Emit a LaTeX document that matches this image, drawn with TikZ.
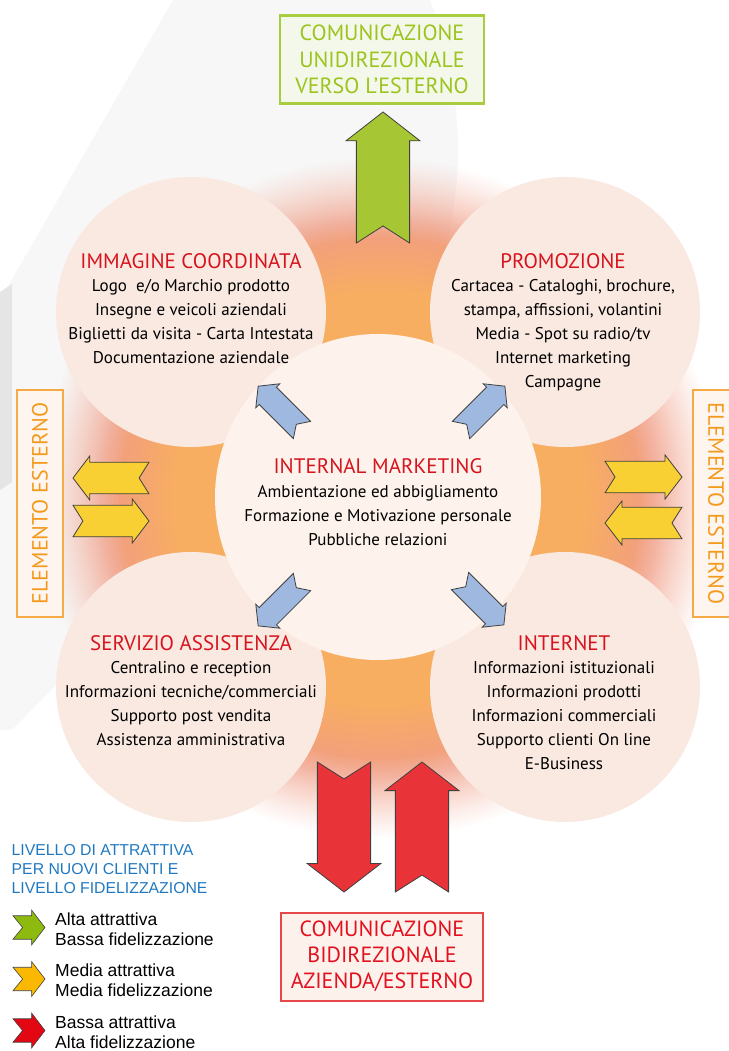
\documentclass[tikz,border=0pt]{standalone}
\usepackage{fontspec}
\setmainfont{PT Sans}
\newfontfamily\legendfont{Liberation Sans}
\usepackage{tikz}
\usetikzlibrary{calc,fadings}

\definecolor{glowor}{HTML}{F8AE60}
\definecolor{glowred}{HTML}{F09C84}
\definecolor{bubblefill}{HTML}{F9E9E1}
\definecolor{corefill}{HTML}{FDF3EC}
\definecolor{titlered}{HTML}{D7141E}
\definecolor{unigreen}{HTML}{9CC31E}
\definecolor{unigreenline}{HTML}{A9CD3F}
\definecolor{unigreenfill}{HTML}{F4F8EA}
\definecolor{biredline}{HTML}{E6474A}
\definecolor{biredtext}{HTML}{E3101E}
\definecolor{birefill}{HTML}{FDF1EC}
\definecolor{extorange}{HTML}{F39A1E}
\definecolor{extline}{HTML}{F6AA45}
\definecolor{extfill}{HTML}{FEF6EE}
\definecolor{arrgreen}{HTML}{A6C733}
\definecolor{arryellow}{HTML}{F9D033}
\definecolor{arrred}{HTML}{E83438}
\definecolor{arrblue}{HTML}{9EB8DF}
\definecolor{legblue}{HTML}{2079C0}
\definecolor{leggreen}{HTML}{8EBA10}
\definecolor{legyellow}{HTML}{FBB800}
\definecolor{legred}{HTML}{E30613}

\pgfdeclareradialshading{glow}{\pgfpoint{0bp}{0bp}}{color(0bp)=(glowor); color(15bp)=(glowor); color(20.5bp)=(glowred); color(25bp)=(glowred!70!white); color(50bp)=(glowred!70!white)}
\pgfdeclareradialshading{glowmask}{\pgfpoint{0bp}{0bp}}{color(0bp)=(pgftransparent!0); color(19bp)=(pgftransparent!0); color(25bp)=(pgftransparent!100); color(50bp)=(pgftransparent!100)}
\pgfdeclarefading{glowfade}{\pgfuseshading{glowmask}}

\tikzset{
  arrowline/.style={draw=black!75, line width=0.8pt, line join=miter},
  bubble/.style={circle, fill=bubblefill, minimum size=270pt, inner sep=0pt},
  core/.style={circle, fill=corefill, minimum size=326pt, inner sep=0pt},
  bubbletitle/.style={font=\fontsize{21}{24}\selectfont, text=titlered, anchor=base, inner sep=0pt},
  bubbletext/.style={font=\fontsize{17}{24}\selectfont, align=center, anchor=base, inner sep=0pt},
  unibox/.style={draw=unigreenline, fill=unigreenfill, line width=2.4pt, text=unigreen,
    minimum width=204pt, minimum height=88pt, inner sep=0pt, align=center,
    font=\fontsize{22}{26.5}\selectfont},
  bibox/.style={draw=biredline, fill=birefill, line width=2pt, text=biredtext,
    minimum width=202pt, minimum height=88pt, inner sep=0pt, align=center,
    font=\fontsize{22}{26}\selectfont},
  extbox/.style={draw=extline, fill=extfill, line width=2pt, text=extorange,
    minimum width=227pt, minimum height=46pt, inner sep=0pt,
    font=\fontsize{22}{24}\selectfont},
  legtitle/.style={font=\legendfont\fontsize{15.8}{18.7}\selectfont, text=legblue,
    align=left, anchor=base west, inner sep=0pt},
  legtext/.style={font=\legendfont\fontsize{17.5}{20}\selectfont,
    align=left, anchor=base west, inner sep=0pt}
}

% block arrow: fill, tail centre, angle, length, half width of the head
\newcommand{\blockarrow}[5]{%
  \filldraw[arrowline, fill=#1, shift={#2}, rotate=#3, xscale=#4, yscale=#5]
    (0,-0.72) -- (0.78,-0.72) -- (0.78,-1) -- (1,0) -- (0.78,1) -- (0.78,0.72)
    -- (0,0.72) -- (0.13,0) -- cycle;}
\newcommand{\legendarrow}[2]{%
  \filldraw[arrowline, line width=0.6pt, fill=#1, shift={#2}, xscale=32, yscale=17.5]
    (0,-0.67) -- (0.58,-0.67) -- (0.58,-1) -- (1,0) -- (0.58,1) -- (0.58,0.67)
    -- (0,0.67) -- (0.3,0) -- cycle;}

\begin{document}
\begin{tikzpicture}[x=1pt, y=-1pt]
  \useasboundingbox (0,0) rectangle (728,1051);

  % faint watermark
  \fill[black!3] (173,0) -- (430,0) .. controls (475,120) and (465,250) .. (405,330)
    -- (12,730) -- (0,730) -- (0,300) -- cycle;
  \fill[black!10] (0,292) -- (12,284) -- (12,482) -- (0,490) -- cycle;

  \shade[shading=glow, path fading=glowfade] (380,498) circle (340);

  \node[bubble] (imm) at (191,312) {};
  \node[bubble] (promo) at (565,312) {};
  \node[bubble] (serv) at (191,687) {};
  \node[bubble] (net) at (565,687) {};
  \node[core] (mkt) at (378,497) {};

  \node[bubbletitle] (immt) at (191,268.3) {IMMAGINE COORDINATA};
  \node[bubbletext] (immb) at (191,363.7) {Logo~ e/o Marchio prodotto\\Insegne e veicoli aziendali\\Biglietti da visita - Carta Intestata\\Documentazione aziendale};

  \node[bubbletitle] (promot) at (563,268.3) {PROMOZIONE};
  \node[bubbletext] (promob) at (563,387.7) {Cartacea - Cataloghi, brochure,\\stampa, affissioni, volantini\\Media - Spot su radio/tv\\Internet marketing\\Campagne};

  \node[bubbletitle] (mktt) at (378,473.3) {INTERNAL MARKETING};
  \node[bubbletext] (mktb) at (378,545.7) {Ambientazione ed abbigliamento\\Formazione e Motivazione personale\\Pubbliche relazioni};

  \node[bubbletitle] (servt) at (191,650) {SERVIZIO ASSISTENZA};
  \node[bubbletext] (servb) at (191,745.3) {Centralino e reception\\Informazioni tecniche/commerciali\\Supporto post vendita\\Assistenza amministrativa};

  \node[bubbletitle] (nett) at (564,650) {INTERNET};
  \node[bubbletext] (netb) at (564,769.3) {Informazioni istituzionali\\Informazioni prodotti\\Informazioni commerciali\\Supporto clienti On line\\E-Business};

  \node[unibox] (uni) at (382,59.5) {COMUNICAZIONE\\UNIDIREZIONALE\\VERSO L’ESTERNO};
  \node[bibox] (bi) at (382,956.5) {COMUNICAZIONE\\BIDIREZIONALE\\AZIENDA/ESTERNO};
  \node[extbox, rotate=90] (extl) at (40,503.5) {ELEMENTO ESTERNO};
  \node[extbox, rotate=-90] (extr) at (716,503.5) {ELEMENTO ESTERNO};

  \blockarrow{arrgreen}{(383,243)}{90}{131}{37}
  \blockarrow{arrred}{(344,762)}{-90}{130}{37}
  \blockarrow{arrred}{(422,892)}{90}{130}{37}
  \blockarrow{arryellow}{(149,478)}{180}{76}{22}
  \blockarrow{arryellow}{(73,521)}{0}{76}{22}
  \blockarrow{arryellow}{(605,477)}{0}{77}{22}
  \blockarrow{arryellow}{(682,523)}{180}{77}{22}
  \blockarrow{arrblue}{(302,430)}{135}{62}{17}
  \blockarrow{arrblue}{(461,430)}{45}{62}{17}
  \blockarrow{arrblue}{(302,582)}{-135}{62}{17}
  \blockarrow{arrblue}{(460,581)}{-45}{62}{17}

  \node[legtitle] (lvl) at (11.5,893.3) {LIVELLO DI ATTRATTIVA\\PER NUOVI CLIENTI E\\LIVELLO FIDELIZZAZIONE};
  \legendarrow{leggreen}{(13,927.5)}
  \legendarrow{legyellow}{(13,979)}
  \legendarrow{legred}{(13,1030.5)}
  \node[legtext] (high) at (55,945) {Alta attrattiva\\Bassa fidelizzazione};
  \node[legtext] (mid) at (55,996.5) {Media attrattiva\\Media fidelizzazione};
  \node[legtext] (low) at (55,1048) {Bassa attrattiva\\Alta fidelizzazione};
\end{tikzpicture}
\end{document}
